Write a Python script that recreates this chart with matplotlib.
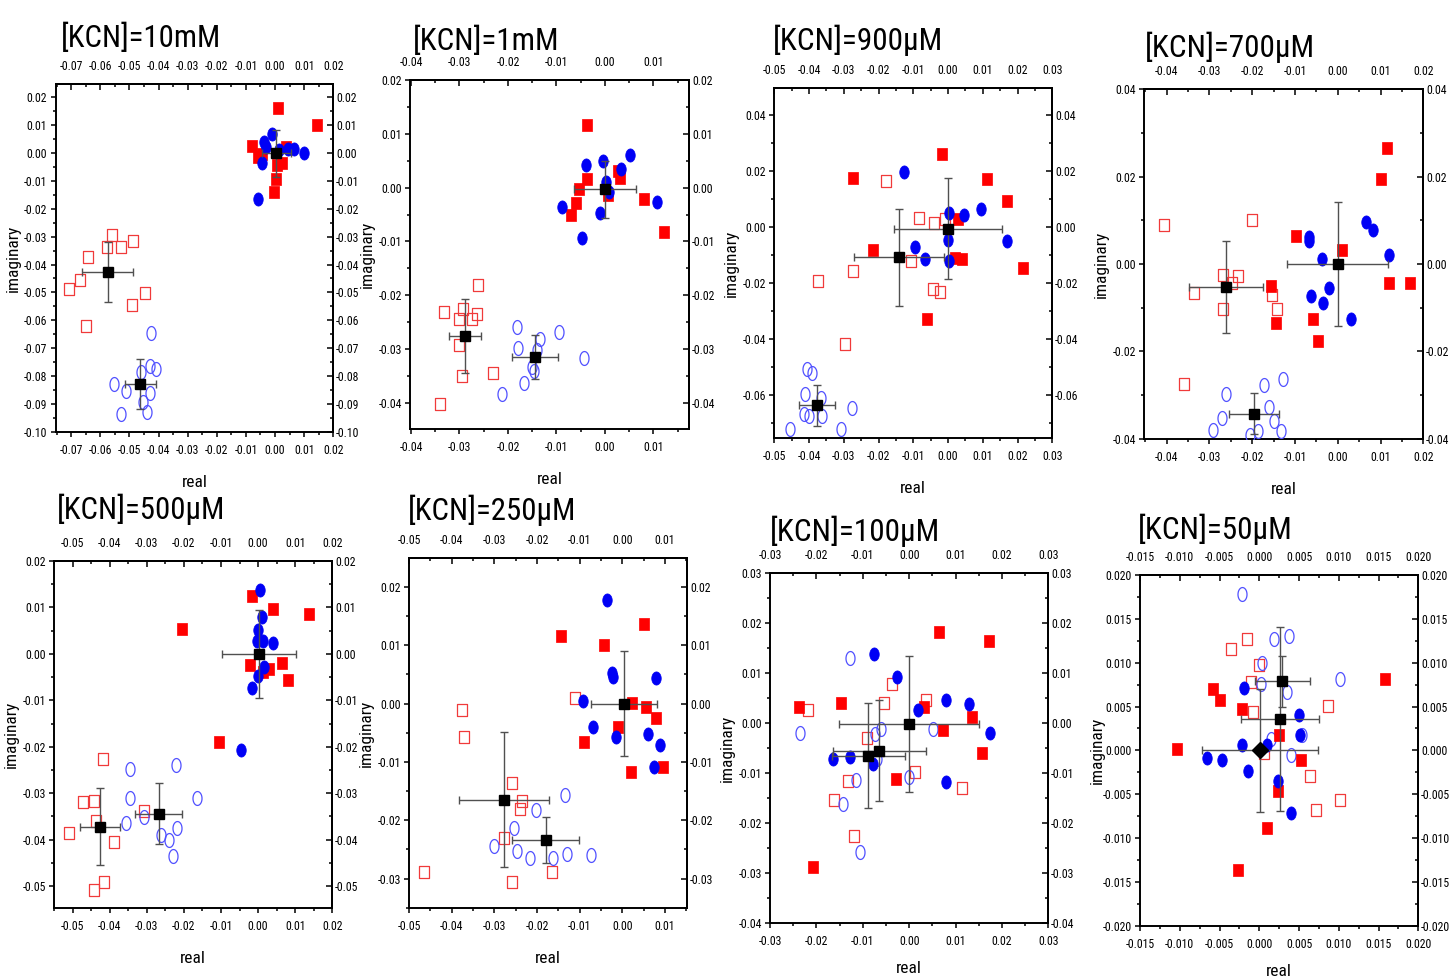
import os
import matplotlib
matplotlib.use('Agg')
import matplotlib.pyplot as plt
from matplotlib.path import Path
from matplotlib import font_manager
from matplotlib.font_manager import FontProperties
from matplotlib.ticker import FuncFormatter, AutoMinorLocator, FixedLocator
import numpy as np

plt.rcParams['font.family'] = ['Liberation Sans', 'DejaVu Sans']
plt.rcParams['axes.unicode_minus'] = False

# ---------------- data (real, imaginary) ----------------
titles = ['[KCN]=10mM', '[KCN]=1mM', '[KCN]=900µM', '[KCN]=700µM',
          '[KCN]=500µM', '[KCN]=250µM', '[KCN]=100µM', '[KCN]=50µM']

k10mM_red_filled = [(0.0009,0.0161),(0.0145,0.0101),(-0.0080,0.0027),(0.0038,0.0023),(-0.0057,-0.0015),(-0.0044,-0.0003),(0.0008,-0.0043),(0.0023,-0.0037),(0.0005,-0.0093),(-0.0004,-0.0141)]
k10mM_blue_filled = [(-0.0009,0.0067),(-0.0037,0.0039),(-0.0032,0.0023),(0.0015,0.0011),(0.0046,0.0016),(0.0066,0.0016),(0.0099,-0.0001),(-0.0046,-0.0037),(-0.0058,-0.0164)]
k10mM_red_open = [(-0.0560,-0.0294),(-0.0576,-0.0336),(-0.0528,-0.0337),(-0.0486,-0.0314),(-0.0642,-0.0374),(-0.0671,-0.0456),(-0.0707,-0.0487),(-0.0448,-0.0501),(-0.0492,-0.0545),(-0.0649,-0.0621)]
k10mM_blue_open = [(-0.0426,-0.0647),(-0.0430,-0.0763),(-0.0407,-0.0774),(-0.0461,-0.0785),(-0.0552,-0.0829),(-0.0512,-0.0855),(-0.0429,-0.0862),(-0.0453,-0.0892),(-0.0439,-0.0929),(-0.0530,-0.0938)]
k10mM_means = [(0.0005,-0.0001,0.0050,0.0084),(-0.0575,-0.0427,0.0087,0.0108),(-0.0463,-0.0829,0.0053,0.0090)]

k1mM_red_filled = [(-0.0036,0.0116),(-0.0038,0.0016),(-0.0053,-0.0003),(-0.0060,-0.0028),(-0.0070,-0.0051),(0.0026,0.0031),(0.0031,0.0017),(0.0006,-0.0014),(0.0081,-0.0022),(0.0121,-0.0083)]
k1mM_blue_filled = [(-0.0039,0.0042),(-0.0005,0.0049),(0.0052,0.0061),(0.0033,0.0034),(0.0002,0.0011),(0.0008,-0.0009),(-0.0088,-0.0036),(-0.0010,-0.0047),(0.0108,-0.0027),(-0.0047,-0.0093)]
k1mM_red_open = [(-0.0261,-0.0180),(-0.0331,-0.0231),(-0.0292,-0.0226),(-0.0301,-0.0244),(-0.0275,-0.0244),(-0.0263,-0.0235),(-0.0301,-0.0292),(-0.0295,-0.0350),(-0.0231,-0.0344),(-0.0341,-0.0402)]
k1mM_blue_open = [(-0.0182,-0.0259),(-0.0179,-0.0298),(-0.0133,-0.0282),(-0.0094,-0.0268),(-0.0141,-0.0301),(-0.0150,-0.0333),(-0.0147,-0.0340),(-0.0166,-0.0363),(-0.0212,-0.0383),(-0.0044,-0.0317)]
k1mM_means = [(0.0,-0.0003,0.0064,0.0053),(-0.0289,-0.0275,0.0033,0.0069),(-0.0144,-0.0314,0.0047,0.0041)]

k900uM_red_filled = [(-0.0016,0.0261),(-0.0274,0.0174),(0.0113,0.0171),(0.0169,0.0094),(0.0030,0.0030),(-0.0217,-0.0081),(0.0020,-0.0110),(0.0041,-0.0114),(0.0215,-0.0146),(-0.0060,-0.0329)]
k900uM_blue_filled = [(-0.0128,0.0196),(0.0003,0.0049),(0.0045,0.0042),(0.0095,0.0063),(-0.0001,-0.0046),(-0.0094,-0.0070),(-0.0065,-0.0114),(0.0003,-0.0121),(0.0171,-0.0050)]
k900uM_red_open = [(-0.0179,0.0164),(-0.0084,0.0031),(-0.0040,0.0015),(-0.0010,0.0030),(-0.0107,-0.0120),(-0.0274,-0.0158),(-0.0373,-0.0192),(-0.0043,-0.0223),(-0.0023,-0.0232),(-0.0296,-0.0418)]
k900uM_blue_open = [(-0.0407,-0.0507),(-0.0391,-0.0523),(-0.0411,-0.0596),(-0.0366,-0.0611),(-0.0414,-0.0668),(-0.0399,-0.0675),(-0.0363,-0.0677),(-0.0276,-0.0648),(-0.0454,-0.0723),(-0.0308,-0.0723)]
k900uM_means = [(0.0,-0.0006,0.0155,0.0180),(-0.0142,-0.0108,0.0130,0.0173),(-0.0378,-0.0637,0.0052,0.0074)]

k700uM_red_filled = [(0.0116,0.0265),(0.0102,0.0195),(-0.0098,0.0063),(0.0011,0.0032),(0.0119,-0.0044),(0.0169,-0.0044),(-0.0157,-0.0050),(-0.0144,-0.0134),(-0.0057,-0.0127),(-0.0046,-0.0176)]
k700uM_blue_filled = [(-0.0067,0.0062),(-0.0067,0.0053),(0.0067,0.0097),(0.0082,0.0077),(0.0120,0.0020),(-0.0037,0.0012),(-0.0020,-0.0055),(-0.0062,-0.0074),(-0.0035,-0.0089),(0.0030,-0.0127)]
k700uM_red_open = [(-0.0407,0.0089),(-0.0200,0.0101),(-0.0267,-0.0025),(-0.0234,-0.0027),(-0.0246,-0.0044),(-0.0336,-0.0067),(-0.0153,-0.0072),(-0.0267,-0.0103),(-0.0141,-0.0102),(-0.0360,-0.0275)]
k700uM_blue_open = [(-0.0128,-0.0264),(-0.0172,-0.0277),(-0.0260,-0.0298),(-0.0160,-0.0328),(-0.0271,-0.0353),(-0.0148,-0.0360),(-0.0291,-0.0379),(-0.0187,-0.0382),(-0.0204,-0.0392),(-0.0132,-0.0382)]
k700uM_means = [(0.0,0.0,0.0118,0.0142),(-0.0261,-0.0053,0.0087,0.0105),(-0.0196,-0.0343,0.0058,0.0047)]

k500uM_red_filled = [(-0.0016,0.0125),(0.0040,0.0096),(0.0138,0.0085),(-0.0204,0.0054),(-0.0021,-0.0024),(0.0065,-0.0020),(0.0030,-0.0033),(0.0014,-0.0040),(0.0080,-0.0056),(-0.0105,-0.0190)]
k500uM_blue_filled = [(0.0004,0.0137),(0.0011,0.0079),(0.0001,0.0051),(-0.0004,0.0028),(0.0014,0.0028),(0.0040,0.0024),(0.0015,-0.0029),(0.0001,-0.0048),(-0.0016,-0.0074),(-0.0046,-0.0206)]
k500uM_red_open = [(-0.0417,-0.0227),(-0.0473,-0.0319),(-0.0441,-0.0317),(-0.0437,-0.0361),(-0.0307,-0.0338),(-0.0509,-0.0385),(-0.0388,-0.0406),(-0.0415,-0.0491),(-0.0443,-0.0509)]
k500uM_blue_open = [(-0.0344,-0.0247),(-0.0222,-0.0239),(-0.0344,-0.0310),(-0.0164,-0.0310),(-0.0308,-0.0351),(-0.0355,-0.0364),(-0.0262,-0.0390),(-0.0239,-0.0401),(-0.0219,-0.0376),(-0.0229,-0.0435)]
k500uM_means = [(0.0002,0.0,0.0099,0.0095),(-0.0426,-0.0372,0.0054,0.0083),(-0.0268,-0.0344,0.0064,0.0065)]

k250uM_red_filled = [(0.0050,0.0136),(-0.0145,0.0115),(-0.0042,0.0101),(0.0023,0.0001),(0.0055,-0.0006),(0.0079,-0.0025),(-0.0011,-0.0041),(-0.0091,-0.0066),(0.0021,-0.0118),(0.0094,-0.0108)]
k250uM_blue_filled = [(-0.0037,0.0177),(-0.0025,0.0053),(-0.0021,0.0046),(0.0078,0.0044),(-0.0093,0.0004),(-0.0070,-0.0040),(-0.0015,-0.0057),(0.0059,-0.0053),(0.0088,-0.0071),(0.0073,-0.0108)]
k250uM_red_open = [(-0.0375,-0.0011),(-0.0372,-0.0057),(-0.0111,0.0010),(-0.0259,-0.0137),(-0.0235,-0.0167),(-0.0240,-0.0181),(-0.0277,-0.0231),(-0.0466,-0.0288),(-0.0258,-0.0306),(-0.0164,-0.0289)]
k250uM_blue_open = [(-0.0134,-0.0156),(-0.0202,-0.0182),(-0.0255,-0.0214),(-0.0302,-0.0245),(-0.0246,-0.0252),(-0.0217,-0.0264),(-0.0162,-0.0264),(-0.0130,-0.0258),(-0.0074,-0.0260)]
k250uM_means = [(0.0003,0.0,0.0077,0.0090),(-0.0277,-0.0165,0.0105,0.0116),(-0.0180,-0.0234,0.0078,0.0039)]

k100uM_red_filled = [(0.0065,0.0181),(0.0173,0.0163),(-0.0238,0.0031),(-0.0147,0.0039),(0.0031,0.0031),(0.0135,0.0011),(0.0073,-0.0014),(0.0158,-0.0059),(-0.0028,-0.0111),(-0.0208,-0.0288)]
k100uM_blue_filled = [(-0.0075,0.0138),(-0.0026,0.0091),(0.0020,0.0025),(0.0080,0.0045),(0.0128,0.0037),(0.0174,-0.0021),(-0.0165,-0.0071),(-0.0128,-0.0067),(-0.0078,-0.0081),(0.0080,-0.0117)]
k100uM_red_open = [(-0.0219,0.0025),(-0.0036,0.0077),(-0.0055,0.0040),(0.0036,0.0046),(-0.0090,-0.0031),(-0.0131,-0.0116),(0.0013,-0.0098),(0.0113,-0.0130),(-0.0162,-0.0154),(-0.0119,-0.0226)]
k100uM_blue_open = [(-0.0128,0.0130),(-0.0236,-0.0021),(-0.0061,-0.0013),(-0.0074,-0.0022),(0.0051,-0.0013),(-0.0069,-0.0071),(0.0000,-0.0108),(-0.0115,-0.0114),(-0.0143,-0.0162),(-0.0107,-0.0257)]
k100uM_means = [(0.0,-0.0002,0.0151,0.0135),(-0.0064,-0.0055,0.0100,0.0101),(-0.0088,-0.0065,0.0078,0.0105)]

k50uM_red_filled = [(0.0158,0.0081),(-0.0058,0.0070),(-0.0050,0.0057),(-0.0022,0.0047),(-0.0103,0.0002),(0.0025,0.0018),(0.0052,-0.0011),(0.0024,-0.0046),(0.0010,-0.0088),(-0.0027,-0.0136)]
k50uM_blue_filled = [(-0.0019,0.0071),(-0.0022,0.0006),(0.0010,0.0006),(0.0050,0.0040),(0.0051,0.0017),(-0.0066,-0.0009),(-0.0047,-0.0011),(-0.0014,-0.0024),(0.0023,-0.0035),(0.0040,-0.0072)]
k50uM_red_open = [(-0.0015,0.0127),(-0.0036,0.0116),(0.0000,0.0097),(-0.0011,0.0078),(-0.0008,0.0044),(0.0086,0.0051),(0.0006,-0.0003),(0.0064,-0.0029),(0.0102,-0.0057),(0.0071,-0.0068)]
k50uM_blue_open = [(-0.0022,0.0178),(0.0018,0.0127),(0.0037,0.0130),(0.0003,0.0100),(0.0002,0.0076),(0.0035,0.0067),(0.0102,0.0081),(0.0015,0.0013),(0.0054,0.0017),(0.0040,-0.0005)]
k50uM_means = [(0.0001,0.0,0.0073,0.0070),(0.0026,0.0036,0.0049,0.0105),(0.0029,0.0079,0.0035,0.0029)]

red_filled = [k10mM_red_filled, k1mM_red_filled, k900uM_red_filled, k700uM_red_filled,
              k500uM_red_filled, k250uM_red_filled, k100uM_red_filled, k50uM_red_filled]
blue_filled = [k10mM_blue_filled, k1mM_blue_filled, k900uM_blue_filled, k700uM_blue_filled,
               k500uM_blue_filled, k250uM_blue_filled, k100uM_blue_filled, k50uM_blue_filled]
red_open = [k10mM_red_open, k1mM_red_open, k900uM_red_open, k700uM_red_open,
            k500uM_red_open, k250uM_red_open, k100uM_red_open, k50uM_red_open]
blue_open = [k10mM_blue_open, k1mM_blue_open, k900uM_blue_open, k700uM_blue_open,
             k500uM_blue_open, k250uM_blue_open, k100uM_blue_open, k50uM_blue_open]
means = [k10mM_means, k1mM_means, k900uM_means, k700uM_means,
         k500uM_means, k250uM_means, k100uM_means, k50uM_means]

# ---------------- layout ----------------
W, H = 1451, 976
rects = [(55.7, 333.3, 84.3, 431.7), (410, 689.3, 80, 429.3), (774.3, 1052.3, 88.3, 438.3),
         (1144.3, 1423.3, 89.3, 438.7), (54, 332.3, 561, 908.3), (409, 687.3, 558.3, 907.7),
         (770, 1048.3, 572.7, 923.3), (1140, 1418.3, 575, 925.7)]
xlims = [(-0.0753, 0.02), (-0.0402, 0.0174), (-0.05, 0.03), (-0.0452, 0.02),
         (-0.055, 0.02), (-0.05, 0.0152), (-0.03, 0.03), (-0.015, 0.02)]
ylims = [(-0.10, 0.0247), (-0.0449, 0.02), (-0.0755, 0.0495), (-0.04, 0.04),
         (-0.0548, 0.02), (-0.035, 0.0249), (-0.04, 0.03), (-0.02, 0.02)]
xtick_spec = [(-0.07, 0.02, 0.01), (-0.04, 0.01, 0.01), (-0.05, 0.03, 0.01), (-0.04, 0.02, 0.01),
              (-0.05, 0.02, 0.01), (-0.05, 0.01, 0.01), (-0.03, 0.03, 0.01), (-0.015, 0.02, 0.005)]
ytick_spec = [(-0.10, 0.02, 0.01), (-0.04, 0.02, 0.01), (-0.06, 0.04, 0.02), (-0.04, 0.04, 0.02),
              (-0.05, 0.02, 0.01), (-0.03, 0.02, 0.01), (-0.04, 0.03, 0.01), (-0.02, 0.02, 0.005)]
decimals = [2, 2, 2, 2, 2, 2, 2, 3]
title_pos = [(61, 47), (413, 50), (773, 50), (1145, 57), (57, 519), (408, 520), (770, 541), (1138, 539)]
title_width = [157, 144, 167, 167, 165, 165, 167, 152]
xlabel_gap = [43, 43, 43, 43, 43, 43, 38, 38]
first_mean_marker = ['s', 's', 's', 's', 's', 's', 's', 'D']

# ---------------- narrow font if one is installed ----------------
files = {os.path.basename(f.fname).lower(): f.fname for f in font_manager.fontManager.ttflist}
cond_path = None
for p in ['liberationsansnarrow-regular.ttf', 'robotocondensed-regular.ttf',
          'dejavusanscondensed.ttf', 'notosans-condensed.ttf', 'opensans_condensed-regular.ttf']:
    if p in files:
        cond_path = files[p]
        break
if cond_path is None:
    for b, fn in sorted(files.items()):
        if ('condensed' in b or 'narrow' in b) and not any(
                k in b for k in ('bold', 'italic', 'oblique', 'light', 'thin', 'black',
                                 'medium', 'semi', 'extra', 'mono', 'serif')):
            cond_path = fn
            break


def fprop(size):
    if cond_path:
        return FontProperties(fname=cond_path, size=size)
    return FontProperties(family=['Liberation Sans', 'DejaVu Sans'], size=size)


TICK_FS = 8.5 if cond_path else 7.8
LABEL_FS = 12.5 if cond_path else 12


def rect_marker(aspect):
    a = aspect / 2
    return Path([(-a, -0.5), (a, -0.5), (a, 0.5), (-a, 0.5), (-a, -0.5)], closed=True)


def ellipse_marker(aspect):
    t = np.linspace(0, 2 * np.pi, 41)
    v = np.column_stack([aspect / 2 * np.cos(t), 0.5 * np.sin(t)])
    return Path(v, closed=True)


M_RF = rect_marker(0.9)
M_RO = rect_marker(0.85)
M_BF = ellipse_marker(0.72)
M_BO = ellipse_marker(0.65)

RED = '#FF0000'
RED_O = '#F03A3A'
BLUE = '#0000F5'
BLUE_O = '#5050FF'

fig = plt.figure(figsize=(W / 100, H / 100), dpi=100)


def make_fmt(dec):
    return FuncFormatter(lambda v, p: f"{round(v, dec + 3) + 0.0:.{dec}f}")


all_axes = []
title_texts = []
for i in range(8):
    l, r, t, b = rects[i]
    ax = fig.add_axes([l / W, 1 - b / H, (r - l) / W, (b - t) / H])
    ax.set_xlim(*xlims[i])
    ax.set_ylim(*ylims[i])

    s, e, st = xtick_spec[i]
    xt = np.round(np.arange(s, e + st / 2, st), 4)
    s, e, st = ytick_spec[i]
    yt = np.round(np.arange(s, e + st / 2, st), 4)
    fmt = make_fmt(decimals[i])

    ax.xaxis.set_major_locator(FixedLocator(xt))
    ax.yaxis.set_major_locator(FixedLocator(yt))
    ax.xaxis.set_major_formatter(fmt)
    ax.yaxis.set_major_formatter(fmt)
    ax.xaxis.set_minor_locator(AutoMinorLocator(2))
    ax.yaxis.set_minor_locator(AutoMinorLocator(2))
    ax.tick_params(which='both', direction='out', labelsize=TICK_FS, width=1.1,
                   top=False, right=False)
    ax.tick_params(which='major', length=3.5)
    ax.tick_params(which='minor', length=2)
    ax.tick_params(axis='x', pad=5)
    ax.tick_params(axis='y', pad=2.5)
    for sp in ax.spines.values():
        sp.set_linewidth(1.4)

    sx = ax.secondary_xaxis('top')
    sx.xaxis.set_major_locator(FixedLocator(xt))
    sx.xaxis.set_major_formatter(fmt)
    sx.xaxis.set_minor_locator(AutoMinorLocator(2))
    sx.tick_params(which='both', direction='in', labelsize=TICK_FS, width=1.1, pad=8)
    sx.tick_params(which='major', length=4)
    sx.tick_params(which='minor', length=2)
    sx.spines['top'].set_linewidth(1.4)

    sy = ax.secondary_yaxis('right')
    sy.yaxis.set_major_locator(FixedLocator(yt))
    sy.yaxis.set_major_formatter(fmt)
    sy.yaxis.set_minor_locator(AutoMinorLocator(2))
    sy.tick_params(which='both', direction='in', labelsize=TICK_FS, width=1.1, pad=2)
    sy.tick_params(which='major', length=4)
    sy.tick_params(which='minor', length=2)
    sy.spines['right'].set_linewidth(1.4)
    all_axes += [ax, sx, sy]

    wpx = r - l
    hpx = b - t
    ax.set_xlabel('real', fontproperties=fprop(LABEL_FS))
    ax.set_ylabel('imaginary', fontproperties=fprop(LABEL_FS))
    ax.xaxis.set_label_coords(0.5, -xlabel_gap[i] / hpx)
    ax.yaxis.set_label_coords(-35 / wpx, 0.5)

    # open markers
    d = np.array(red_open[i])
    ax.plot(d[:, 0], d[:, 1], ls='none', marker=M_RO, ms=8, mfc='none',
            mec=RED_O, mew=0.9, zorder=3)
    d = np.array(blue_open[i])
    ax.plot(d[:, 0], d[:, 1], ls='none', marker=M_BO, ms=10, mfc='none',
            mec=BLUE_O, mew=0.9, zorder=3)
    # filled markers
    d = np.array(red_filled[i])
    ax.plot(d[:, 0], d[:, 1], ls='none', marker=M_RF, ms=8, mfc=RED,
            mec=RED, mew=0.5, zorder=4)
    d = np.array(blue_filled[i])
    ax.plot(d[:, 0], d[:, 1], ls='none', marker=M_BF, ms=9.5, mfc=BLUE,
            mec=BLUE, mew=0.5, zorder=4)

    # means with standard deviation
    for j, (mx, my, ex, ey) in enumerate(means[i]):
        mk = first_mean_marker[i] if j == 0 else 's'
        ax.errorbar([mx], [my], xerr=[ex], yerr=[ey], fmt=mk, color='black',
                    ms=7 if mk == 's' else 8, ecolor='#505050', elinewidth=1.0,
                    capsize=3, capthick=1.0, zorder=6)

    tx, ty = title_pos[i]
    title_texts.append(fig.text(tx / W, 1 - ty / H, titles[i], fontproperties=fprop(25),
                                ha='left', va='baseline'))

# fit title sizes to the reference widths
fig.canvas.draw()
renderer = fig.canvas.get_renderer()
for i, txt in enumerate(title_texts):
    w = txt.get_window_extent(renderer).width
    size = 25 * title_width[i] * 1.02 / w
    size = min(max(size, 19), 27)
    txt.set_fontproperties(fprop(size))

# condensed tick labels
for a in all_axes:
    for axis in (a.xaxis, a.yaxis):
        for tk in axis.get_major_ticks():
            tk.label1.set_fontproperties(fprop(TICK_FS))
            tk.label2.set_fontproperties(fprop(TICK_FS))

fig.savefig('out.png', dpi=100)
